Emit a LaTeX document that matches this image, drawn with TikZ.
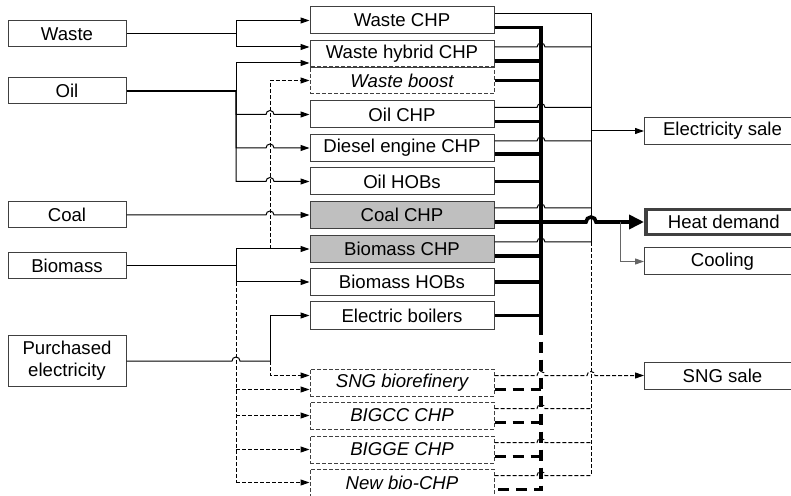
\documentclass[tikz,border=0pt]{standalone}
\usepackage{fontspec}
\setmainfont{Liberation Sans}
\usepackage{tikz}
\usetikzlibrary{arrows.meta, calc}
\newcommand{\dfont}{\fontsize{9.3}{11}\selectfont}
\newcommand{\hop}{arc[start angle=180, end angle=0, radius=2pt]}
\newcommand{\bighop}{arc[start angle=180, end angle=0, radius=2.5pt]}

\begin{document}
\begin{tikzpicture}[
      x=0.5pt, y=-0.5pt,
      box/.style={rectangle, draw=black!75, line width=0.5pt, inner sep=0pt,
                  align=center, font=\dfont},
      src/.style={box, minimum width=59pt, minimum height=13pt},
      unit/.style={box, minimum width=92pt, minimum height=13.5pt},
      grayunit/.style={unit, fill=black!25},
      opt/.style={unit, dash pattern=on 2pt off 1pt, font=\dfont\itshape},
      sink/.style={box, anchor=west, minimum width=78pt, minimum height=13.5pt},
      wire/.style={line width=0.5pt, draw=black},
      wireopt/.style={wire, dash pattern=on 2pt off 1pt},
      tip/.style={-{Triangle[length=4.5pt, width=3pt]}},
      heat/.style={line width=1.8pt},
      heatopt/.style={heat, dash pattern=on 5.5pt off 3.5pt}
    ]
    \useasboundingbox (0,0) rectangle (791,496);
    \clip (0,0) rectangle (791,496);

    % bus lines
    \coordinate (lb) at (236,0);
    \coordinate (db) at (270,0);
    \coordinate (hbus) at (541,0);
    \coordinate (ebus) at (591,0);
    \coordinate (cb) at (620,0);

    % Fuels
    \node[src] (waste) at (67,34) {Waste};
    \node[src] (oil) at (67,91) {Oil};
    \node[src] (coal) at (67,215) {Coal};
    \node[src] (biomass) at (67,265.5) {Biomass};
    \node[src, minimum height=25.5pt] (purch) at (67,361) {Purchased\\electricity};

    % Plants
    \foreach \nm/\y/\txt/\sty in {
      wchp/20.5/Waste CHP/unit,
      whyb/54/Waste hybrid CHP/unit,
      wboost/80.5/Waste boost/opt,
      oilchp/114.5/Oil CHP/unit,
      diesel/148/Diesel engine CHP/unit,
      oilhob/181.5/Oil HOBs/unit,
      coalchp/215/Coal CHP/grayunit,
      biochp/249/Biomass CHP/grayunit,
      biohob/282/Biomass HOBs/unit,
      elboil/315.5/Electric boilers/unit,
      sng/382.5/SNG biorefinery/opt,
      bigcc/415.5/BIGCC CHP/opt,
      bigge/449.5/BIGGE CHP/opt,
      newbio/482.5/New bio-CHP/opt}{
      \node[\sty] (\nm) at (402,\y) {\txt};
    }

    % Outputs
    \node[sink] (elsale) at (644,131) {Electricity sale};
    \node[sink, line width=1.8pt, minimum height=12.6pt] (heat) at (644,222) {Heat demand};
    \node[sink] (cooling) at (644,261.5) {Cooling};
    \node[sink] (sngsale) at (644,375.5) {SNG sale};

    % Waste
    \draw[wire] (waste.east) -- (waste -| lb);
    \draw[wire, tip] (waste -| lb) |- (wchp.west);
    \draw[wire, tip] (waste -| lb) |- ($(whyb.west)+(0,-7)$);

    % Oil
    \draw[wire, line width=0.8pt] (oil.east) -- (oil -| lb);
    \draw[wire, tip] (oil -| lb) |- ($(whyb.west)+(0,9)$);
    \foreach \nm in {oilchp, diesel, oilhob}
      \draw[wire, tip] (oil -| lb) |- ($(\nm.west -| db)+(-4,0)$) \hop -- (\nm.west);

    % Coal
    \draw[wire, tip] (coal.east) -- ($(coalchp.west -| db)+(-4,0)$) \hop -- (coalchp.west);

    % Biomass
    \draw[wire] (biomass.east) -- (biomass -| lb);
    \draw[wire, tip] (biomass -| lb) |- (biochp.west);
    \draw[wire, tip] (biomass -| lb) |- (biohob.west);
    \draw[wireopt, tip] (biochp.west -| db) |- (wboost.west);
    \draw[wireopt] (biohob.west -| lb) -- (newbio.west -| lb);
    \draw[wireopt, tip] ($(sng.west -| lb)+(0,7)$) -- ($(sng.west)+(0,7)$);
    \foreach \nm in {bigcc, bigge, newbio}
      \draw[wireopt, tip] (\nm.west -| lb) -- (\nm.west);

    % Purchased electricity
    \draw[wire] (purch.east) -- ($(purch -| lb)+(-4,0)$) \hop -- (purch -| db);
    \draw[wire, tip] (purch -| db) |- (elboil.west);
    \draw[wireopt, tip] (purch -| db) |- ($(sng.west)+(0,-7)$);

    % Electricity
    \coordinate (elwchp) at ($(wchp.east)+(0,-6.5)$);
    \foreach \nm in {whyb, oilchp, diesel, coalchp, biochp} {
      \coordinate (el\nm) at ($(\nm.east)+(0,-7)$);
      \draw[wire] (el\nm) -- ($(el\nm -| hbus)+(-4,0)$) \hop -- (el\nm -| ebus);
    }
    \foreach \nm in {bigcc, bigge, newbio} {
      \coordinate (el\nm) at ($(\nm.east)+(0,-7)$);
      \draw[wireopt] (el\nm) -- ($(el\nm -| hbus)+(-4,0)$) \hop -- (el\nm -| ebus);
    }
    \draw[wire] (elwchp) -| (elbiochp -| ebus);
    \draw[wireopt] (elbiochp -| ebus) -- (elnewbio -| ebus);
    \draw[wire, tip] (elsale -| ebus) -- (elsale.west);
    \coordinate (elsng) at ($(sng.east)+(0,-7)$);
    \draw[wireopt, tip] (elsng) -- ($(elsng -| hbus)+(-4,0)$) \hop
      -- ($(elsng -| ebus)+(-4,0)$) \hop -- (sngsale.west);

    % Heat
    \draw[heat] ($(wchp.east)+(0,7)$) -| ($(elboil.east -| hbus)+(0,8)$);
    \draw[heatopt] ($(elboil.east -| hbus)+(0,8)$) |- ($(newbio.east)+(0,7)$);
    \foreach \nm/\dy in {whyb/7, wboost/0, oilchp/7, diesel/6, oilhob/0,
                         coalchp/7, biochp/7, biohob/0, elboil/0}
      \draw[heat] ($(\nm.east)+(0,\dy)$) -- ($(\nm.east -| hbus)+(0,\dy)$);
    \foreach \nm in {sng, bigcc, bigge}
      \draw[heatopt] ($(\nm.east)+(0,7)$) -- ($(\nm.east -| hbus)+(0,7)$);
    \draw[heat, -{Triangle[length=7.5pt, width=7pt]}] ($(coalchp.east -| hbus)+(0,7)$)
      -- ($(coalchp.east -| ebus)+(-5,7)$) \bighop -- (heat.west);
    \draw[wire, draw=black!60, tip] ($(coalchp.east -| cb)+(0,7)$) |- (cooling.west);
  \end{tikzpicture}
\end{document}
